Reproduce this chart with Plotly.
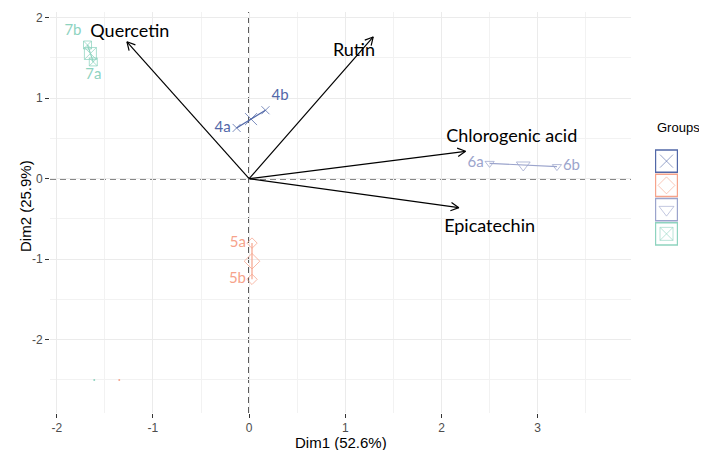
import math
import plotly.graph_objects as go

# ---------------- data ----------------
groups = ["4", "5", "6", "7"]
group_colors = ["#5268a8", "#f6a38b", "#9ba4cc", "#8ed3bf"]
group_symbols = ["x-thin-open", "diamond-open", "triangle-down-open", "square-x-open"]

ind_labels = ["4a", "4b", "5a", "5b", "6a", "6b", "7a", "7b"]
ind_group = ["4", "4", "5", "5", "6", "6", "7", "7"]
ind_dim1 = [-0.13, 0.17, 0.03, 0.03, 2.50, 3.20, -1.62, -1.68]
ind_dim2 = [0.63, 0.85, -0.80, -1.25, 0.19, 0.15, 1.45, 1.66]

var_names = ["Quercetin", "Rutin", "Chlorogenic acid", "Epicatechin"]
var_dim1 = [-1.27, 1.29, 2.25, 2.18]
var_dim2 = [1.70, 1.76, 0.34, -0.36]
var_label_dim1 = [-1.24, 1.09, 2.73, 2.50]
var_label_dim2 = [1.81, 1.58, 0.51, -0.61]

stray_dim1 = [-1.61, -1.35]
stray_dim2 = [-2.5, -2.5]
stray_colors = ["#8ed3bf", "#f6a38b"]

x_ticks = [-2, -1, 0, 1, 2, 3]
y_ticks = [-2, -1, 0, 1, 2]
x_title = "Dim1 (52.6%)"
y_title = "Dim2 (25.9%)"
legend_title = "Groups"

# ---------------- layout geometry (page pixels, body margin compensated) ----------------
OFF = 8  # default page body margin
PAGE_W, PAGE_H = 707, 450
W, H = PAGE_W - OFF, PAGE_H - OFF
panel_left, panel_right, panel_top, panel_bottom = 50, 631, 12, 413
paper_right = 697
ML = panel_left - OFF
MT = panel_top - OFF
MB = H - (panel_bottom - OFF)
MR = W - (paper_right - OFF)
paper_w = W - ML - MR
paper_h = H - MT - MB
x_dom = [0, (panel_right - panel_left) / paper_w]
x_range = [-2.07, 3.97]
y_range = [-2.91, 2.07]
sx = (panel_right - panel_left) / (x_range[1] - x_range[0])
sy = paper_h / (y_range[1] - y_range[0])

def px_to_paper_x(px):
    return (px - panel_left) / paper_w

def px_to_paper_y(py):
    return (panel_bottom - py) / paper_h

label_pos = {"4a": "middle left", "4b": "top right", "5a": "middle left",
             "5b": "middle left", "6a": "middle left", "6b": "middle right",
             "7a": "bottom center", "7b": "top left"}

fig = go.Figure()

# group hulls (lines), points, centers, labels
for g, col, sym in zip(groups, group_colors, group_symbols):
    idx = [i for i, gg in enumerate(ind_group) if gg == g]
    xs = [ind_dim1[i] for i in idx]
    ys = [ind_dim2[i] for i in idx]
    fig.add_trace(go.Scatter(x=xs, y=ys, mode="lines",
                             line=dict(color=col, width=1.2),
                             showlegend=False, hoverinfo="skip"))
    fig.add_trace(go.Scatter(x=xs, y=ys, mode="markers+text",
                             text=[ind_labels[i] for i in idx],
                             textposition=[label_pos[ind_labels[i]] for i in idx],
                             textfont=dict(family="Lato", size=15, color=col),
                             marker=dict(symbol=sym, size=8, color=col, opacity=0.75,
                                         line=dict(color=col, width=1)),
                             showlegend=False))
    cx = sum(xs) / len(xs)
    cy = sum(ys) / len(ys)
    fig.add_trace(go.Scatter(x=[cx], y=[cy], mode="markers",
                             marker=dict(symbol=sym, size=12, color=col, opacity=0.75,
                                         line=dict(color=col, width=1)),
                             showlegend=False))

# stray tiny points
fig.add_trace(go.Scatter(x=stray_dim1, y=stray_dim2, mode="markers",
                         marker=dict(size=2, color=stray_colors),
                         showlegend=False, hoverinfo="skip"))

# variable arrows
ax_x, ax_y = [], []
L_head = 9.0
ang = math.radians(28)
for vx, vy in zip(var_dim1, var_dim2):
    ax_x += [0, vx, None]
    ax_y += [0, vy, None]
    px, py = vx * sx, vy * sy
    n = math.hypot(px, py)
    ux, uy = px / n, py / n
    for s in (1, -1):
        c, si = math.cos(s * ang), math.sin(s * ang)
        rx = ux * c - uy * si
        ry = ux * si + uy * c
        hx = (px - L_head * rx) / sx
        hy = (py - L_head * ry) / sy
        ax_x += [hx, vx]
        ax_y += [hy, vy]
    ax_x.append(None)
    ax_y.append(None)
fig.add_trace(go.Scatter(x=ax_x, y=ax_y, mode="lines",
                         line=dict(color="black", width=1.2),
                         showlegend=False, hoverinfo="skip"))
fig.add_trace(go.Scatter(x=var_label_dim1, y=var_label_dim2, mode="text",
                         text=var_names,
                         textfont=dict(family="Lato", size=18, color="black"),
                         showlegend=False))

# dashed reference lines
fig.add_shape(type="line", xref="x", yref="y domain", x0=0, x1=0, y0=0, y1=1,
              line=dict(color="#111111", width=1.6, dash="6px,4px"), layer="below")
fig.add_shape(type="line", xref="x domain", yref="y", x0=0, x1=1, y0=0, y1=0,
              line=dict(color="#111111", width=1.6, dash="6px,4px"), layer="below")

# custom legend
leg_left_px, leg_right_px = 655, 678
leg_top_px, leg_bot_px = 149, 246
x2_dom = [px_to_paper_x(leg_left_px), px_to_paper_x(leg_right_px)]
y2_dom = [px_to_paper_y(leg_bot_px), px_to_paper_y(leg_top_px)]
n_g = len(groups)
for k, (g, col, sym) in enumerate(zip(groups, group_colors, group_symbols)):
    yc = n_g - 0.5 - k
    fig.add_shape(type="rect", xref="x2", yref="y2", x0=0.02, x1=0.98,
                  y0=yc - 0.46, y1=yc + 0.46, layer="below",
                  line=dict(color=col, width=1.5), fillcolor="white")
    fig.add_trace(go.Scatter(x=[0.5], y=[yc], xaxis="x2", yaxis="y2", mode="markers",
                             marker=dict(symbol=sym, size=13, color=col, opacity=0.6,
                                         line=dict(color=col, width=1)),
                             showlegend=False, hoverinfo="skip"))
    fig.add_annotation(x=1.35, y=yc, xref="x2", yref="y2", text=g, showarrow=False,
                       xanchor="left", yanchor="middle",
                       font=dict(family="Liberation Sans", size=13, color="black"))
fig.add_annotation(x=px_to_paper_x(leg_left_px), y=px_to_paper_y(128),
                   xref="paper", yref="paper", text=legend_title, showarrow=False,
                   xanchor="left", yanchor="middle",
                   font=dict(family="Liberation Sans", size=13, color="black"))

# axis titles
fig.add_annotation(x=px_to_paper_x((panel_left + panel_right) / 2), y=px_to_paper_y(442),
                   xref="paper", yref="paper", text=x_title, showarrow=False,
                   xanchor="center", yanchor="middle",
                   font=dict(family="Liberation Sans", size=15, color="black"))
fig.add_annotation(x=px_to_paper_x(26), y=px_to_paper_y(206),
                   xref="paper", yref="paper", text=y_title, showarrow=False,
                   textangle=-90, xanchor="center", yanchor="middle",
                   font=dict(family="Liberation Sans", size=15, color="black"))

axis_common = dict(showgrid=True, gridcolor="#ebebeb", gridwidth=1,
                   minor=dict(dtick=0.5, tick0=0, showgrid=True, gridcolor="#f2f2f2",
                              gridwidth=0.8),
                   zeroline=False, showline=False, automargin=False,
                   ticks="outside", ticklen=4, tickcolor="#333333", tickwidth=1,
                   tickfont=dict(family="Liberation Sans", size=12, color="#4d4d4d"))

fig.update_layout(
    width=W, height=H,
    margin=dict(l=ML, r=MR, t=MT, b=MB, autoexpand=False),
    plot_bgcolor="white", paper_bgcolor="white",
    xaxis=dict(domain=x_dom, range=x_range, tickvals=x_ticks,
               ticktext=[str(v) for v in x_ticks], **axis_common),
    yaxis=dict(range=y_range, tickvals=y_ticks,
               ticktext=[str(v) for v in y_ticks], **axis_common),
    xaxis2=dict(domain=x2_dom, range=[0, 1], visible=False, fixedrange=True,
                anchor="y2", automargin=False),
    yaxis2=dict(domain=y2_dom, range=[0, n_g], visible=False, fixedrange=True,
                anchor="x2", automargin=False),
    showlegend=False,
)

fig.write_html("out.html")
